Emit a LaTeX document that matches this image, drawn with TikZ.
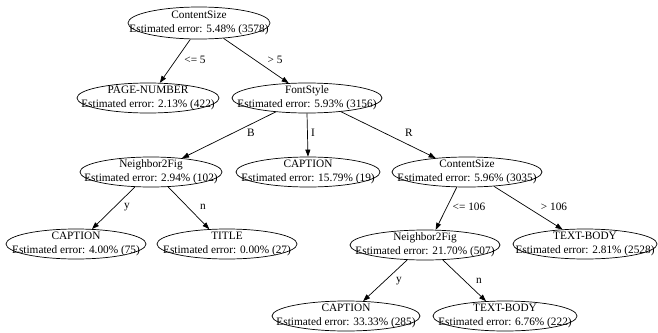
\documentclass[tikz,border=0pt]{standalone}
\usepackage{fontspec}
\setmainfont{Liberation Serif}
\usetikzlibrary{shapes.geometric,arrows.meta}

\begin{document}
\begin{tikzpicture}[x=1pt,y=-1pt,font=\fontsize{11.3}{13.5}\selectfont]

      \useasboundingbox (0,0) rectangle (658,332);

      \begin{scope}[every node/.style={ellipse,draw,line width=.7pt,align=center,
          inner xsep=-40pt,inner ysep=-20pt,minimum height=30pt}]
        \node[minimum width=142pt,minimum height=32pt] (1) at (199,23) {ContentSize\\Estimated error: 5.48\% (3578)};
        \node[minimum width=142pt] (2)  at (148,98)  {PAGE-NUMBER\\Estimated error: 2.13\% (422)};
        \node[minimum width=150pt] (3)  at (307,98)  {FontStyle\\Estimated error: 5.93\% (3156)};
        \node[minimum width=142pt] (4)  at (151,172) {Neighbor2Fig\\Estimated error: 2.94\% (102)};
        \node[minimum width=144pt] (5)  at (308,172) {CAPTION\\Estimated error: 15.79\% (19)};
        \node[minimum width=150pt] (6)  at (467,172) {ContentSize\\Estimated error: 5.96\% (3035)};
        \node[minimum width=140pt] (7)  at (76,244)  {CAPTION\\Estimated error: 4.00\% (75)};
        \node[minimum width=140pt] (8)  at (227,244) {TITLE\\Estimated error: 0.00\% (27)};
        \node[minimum width=150pt] (9)  at (425,245) {Neighbor2Fig\\Estimated error: 21.70\% (507)};
        \node[minimum width=144pt] (10) at (585,244) {TEXT-BODY\\Estimated error: 2.81\% (2528)};
        \node[minimum width=148pt] (11) at (346,316) {CAPTION\\Estimated error: 33.33\% (285)};
        \node[minimum width=144pt] (12) at (505,316) {TEXT-BODY\\Estimated error: 6.76\% (222)};
      \end{scope}

      \begin{scope}[every edge/.style={draw,line width=.7pt,-{Triangle[length=7pt,width=5pt]}}]
        \path (1.242)  edge (2.52);
        \path (1.328)  edge (3.141);
        \path (3.204)  edge (4.24);
        \path (3.south) edge (5.north);
        \path (3.338)  edge (6.156);
        \path (4.223)  edge (7.43);
        \path (4.319)  edge (8.140);
        \path (6.236)  edge (9.55);
        \path (6.332)  edge (10.147);
        \path (9.220)  edge (11.41);
        \path (9.320)  edge (12.142);
      \end{scope}

      \node (e1)  at (195,60)  {<= 5};
      \node (e2)  at (275,60)  {> 5};
      \node (e3)  at (251,133) {B};
      \node (e4)  at (313,133) {I};
      \node (e5)  at (409,133) {R};
      \node (e6)  at (127,207) {y};
      \node (e7)  at (203,207) {n};
      \node (e8)  at (469,207) {<= 106};
      \node (e9)  at (554,207) {> 106};
      \node (e10) at (399,281) {y};
      \node (e11) at (479,281) {n};

    \end{tikzpicture}
\end{document}
